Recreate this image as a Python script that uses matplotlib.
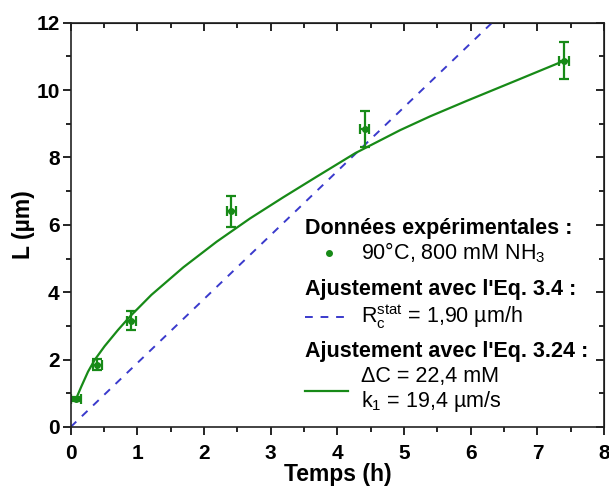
import numpy as np
import matplotlib
matplotlib.use("Agg")
import matplotlib.pyplot as plt
from matplotlib.ticker import MultipleLocator

plt.rcParams['font.family'] = ['Liberation Sans', 'DejaVu Sans']
plt.rcParams['mathtext.fontset'] = 'custom'
plt.rcParams['mathtext.rm'] = 'Liberation Sans'
plt.rcParams['mathtext.it'] = 'Liberation Sans'

# experimental points
t_exp = [0.08, 0.40, 0.91, 2.41, 4.41, 7.40]
L_exp = [0.84, 1.85, 3.16, 6.40, 8.85, 10.87]
t_err = [0.075, 0.07, 0.07, 0.07, 0.07, 0.075]
L_err = [0.06, 0.16, 0.27, 0.46, 0.54, 0.55]

# fit Eq. 3.24
t_fit = [0.084, 0.16, 0.26, 0.36, 0.51, 0.71, 0.885, 1.06, 1.21, 1.69,
         2.19, 2.69, 3.19, 3.69, 4.27, 4.94, 5.39, 5.94, 6.69, 7.40]
L_fit = [0.85, 1.20, 1.64, 1.99, 2.40, 2.88, 3.27, 3.62, 3.92, 4.74,
         5.50, 6.19, 6.82, 7.43, 8.13, 8.81, 9.22, 9.68, 10.29, 10.87]

# fit Eq. 3.4 (linear)
t_lin = [0.0, 6.32]
L_lin = [0.0, 12.0]

green = '#178a17'
blue = '#3a3acc'

fig = plt.figure(figsize=(6.09, 4.86), dpi=100)
ax = fig.add_axes([0.116, 0.1214, 0.876, 0.8319])

ax.plot(t_lin, L_lin, color=blue, lw=1.4, dashes=(4, 4))
ax.plot(t_fit, L_fit, color=green, lw=1.6)
ax.errorbar(t_exp, L_exp, xerr=t_err, yerr=L_err, fmt='o', color=green,
            ms=4, elinewidth=1.6, capsize=3.5, capthick=1.6)

ax.set_xlim(0, 8)
ax.set_ylim(0, 12)
ax.xaxis.set_major_locator(MultipleLocator(1))
ax.xaxis.set_minor_locator(MultipleLocator(0.5))
ax.yaxis.set_major_locator(MultipleLocator(2))
ax.yaxis.set_minor_locator(MultipleLocator(1))
ax.tick_params(which='major', direction='out', length=6, width=1.2,
               labelsize=15, pad=2)
ax.tick_params(axis='x', which='major', pad=6)
ax.tick_params(which='minor', direction='out', length=3.5, width=1.2)
for lab in ax.get_xticklabels() + ax.get_yticklabels():
    lab.set_fontweight('bold')
for s in ax.spines.values():
    s.set_linewidth(1.2)
    s.set_color('#222222')

top = ax.secondary_xaxis('top')
top.xaxis.set_major_locator(MultipleLocator(1))
top.xaxis.set_minor_locator(MultipleLocator(0.5))
top.tick_params(which='major', direction='in', length=6, width=1.2, labeltop=False)
top.tick_params(which='minor', direction='in', length=3.5, width=1.2)
right = ax.secondary_yaxis('right')
right.yaxis.set_major_locator(MultipleLocator(2))
right.yaxis.set_minor_locator(MultipleLocator(1))
right.tick_params(which='major', direction='in', length=6, width=1.2, labelright=False)
right.tick_params(which='minor', direction='in', length=3.5, width=1.2)

ax.set_xlabel('Temps (h)', fontsize=16.5, fontweight='bold')
ax.set_ylabel('L (µm)', fontsize=16.5, fontweight='bold')
ax.xaxis.set_label_coords(0.5, -0.088)
ax.yaxis.set_label_coords(-0.066, 0.5)

# legend drawn by hand
tr = ax.transAxes
fs = 15.5
ax.text(0.439, 0.492, 'Données expérimentales :', transform=tr, fontsize=fs,
        fontweight='bold', va='center')
ax.plot([0.484], [0.430], 'o', color=green, ms=4, transform=tr)
ax.text(0.544, 0.430, r'90°C, 800 mM NH$_\mathregular{3}$', transform=tr,
        fontsize=fs, va='center')
ax.text(0.439, 0.339, "Ajustement avec l'Eq. 3.4 :", transform=tr, fontsize=fs,
        fontweight='bold', va='center')
ax.plot([0.439, 0.520], [0.273, 0.273], color=blue, lw=1.4, dashes=(4, 4),
        transform=tr)
ax.text(0.544, 0.273, r'R$_\mathregular{c}^\mathregular{stat}$ = 1,90 µm/h',
        transform=tr, fontsize=fs, va='center')
ax.text(0.439, 0.186, "Ajustement avec l'Eq. 3.24 :", transform=tr, fontsize=fs,
        fontweight='bold', va='center')
ax.plot([0.439, 0.520], [0.090, 0.090], color=green, lw=1.6, transform=tr)
ax.text(0.544, 0.124, '\u0394C = 22,4 mM', transform=tr, fontsize=fs, va='center')
ax.text(0.544, 0.062, r'k$_\mathregular{1}$ = 19,4 µm/s', transform=tr,
        fontsize=fs, va='center')

fig.savefig('out.png', dpi=100)
